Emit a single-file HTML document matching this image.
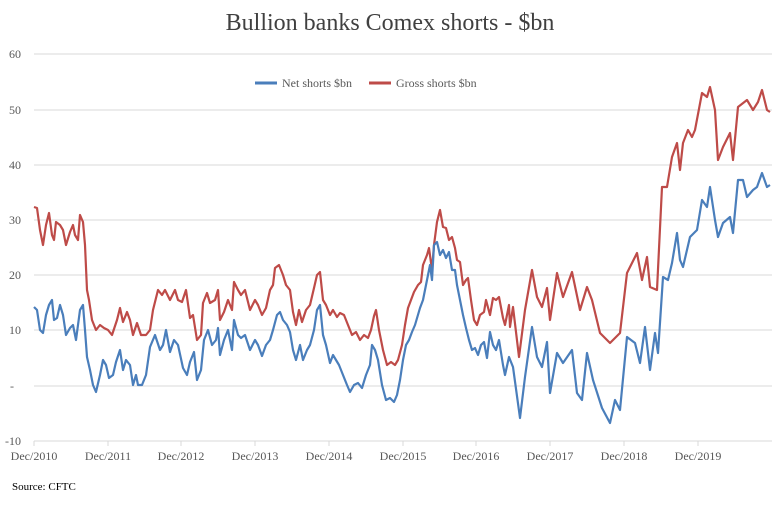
<!DOCTYPE html>
<html><head><meta charset="utf-8"><style>
body{margin:0;background:#fff;}
svg text{font-family:"Liberation Serif",serif;fill:#595959;}
</style></head><body>
<svg width="779" height="500" xmlns="http://www.w3.org/2000/svg">
<text x="390" y="30" text-anchor="middle" style="font-size:24px;fill:#404040">Bullion banks Comex shorts - $bn</text>
<g stroke="#d9d9d9" stroke-width="1">
<line x1="34" y1="54" x2="772" y2="54"/><line x1="34" y1="110" x2="772" y2="110"/>
<line x1="34" y1="165" x2="772" y2="165"/><line x1="34" y1="220" x2="772" y2="220"/>
<line x1="34" y1="275" x2="772" y2="275"/><line x1="34" y1="330" x2="772" y2="330"/>
<line x1="34" y1="386" x2="772" y2="386"/><line x1="34" y1="441" x2="772" y2="441"/>
<line x1="34" y1="441" x2="34" y2="446"/><line x1="108" y1="441" x2="108" y2="446"/>
<line x1="181" y1="441" x2="181" y2="446"/><line x1="255" y1="441" x2="255" y2="446"/>
<line x1="329" y1="441" x2="329" y2="446"/><line x1="403" y1="441" x2="403" y2="446"/>
<line x1="476" y1="441" x2="476" y2="446"/><line x1="550" y1="441" x2="550" y2="446"/>
<line x1="624" y1="441" x2="624" y2="446"/><line x1="698" y1="441" x2="698" y2="446"/>
</g>
<g style="font-size:12px" text-anchor="end">
<text x="21" y="58">60</text><text x="21" y="114">50</text><text x="21" y="169">40</text>
<text x="21" y="224">30</text><text x="21" y="279">20</text><text x="21" y="334">10</text>
<text x="14" y="390">-</text><text x="21" y="445">-10</text>
</g>
<g style="font-size:12px" text-anchor="middle">
<text x="34" y="460">Dec/2010</text><text x="108" y="460">Dec/2011</text><text x="181" y="460">Dec/2012</text>
<text x="255" y="460">Dec/2013</text><text x="329" y="460">Dec/2014</text><text x="403" y="460">Dec/2015</text>
<text x="476" y="460">Dec/2016</text><text x="550" y="460">Dec/2017</text><text x="624" y="460">Dec/2018</text>
<text x="698" y="460">Dec/2019</text>
</g>
<text x="12" y="490" style="font-size:11px;fill:#000">Source: CFTC</text>
<line x1="255" y1="83" x2="277" y2="83" stroke="#4a7ebb" stroke-width="3"/>
<text x="282" y="87" style="font-size:12px">Net shorts $bn</text>
<line x1="369" y1="83" x2="391" y2="83" stroke="#be4b48" stroke-width="3"/>
<text x="396" y="87" style="font-size:12px">Gross shorts $bn</text>
<polyline fill="none" stroke="#be4b48" stroke-width="2.2" stroke-linejoin="round" points="34,207 37,208 40,230 43,245 46,225 49,213 52,235 54,240 56,222 60,225 63,230 66,245 70,232 73,225 75,235 78,240 80,215 83,222 85,245 87,290 89,300 92,320 96,330 100,325 104,328 108,330 112,335 117,320 120,308 123,322 127,312 130,320 133,335 137,323 141,335 146,335 150,330 153,310 158,290 162,295 165,290 170,300 175,290 178,300 182,302 186,290 190,318 193,315 197,340 201,335 203,303 207,293 210,303 215,300 218,290 220,320 224,312 228,300 232,310 234,282 238,290 241,295 245,290 250,310 255,300 258,305 262,315 266,308 270,290 273,285 275,268 279,265 283,275 286,285 290,290 293,312 296,325 299,310 302,322 306,310 310,305 314,288 317,275 320,272 323,300 326,305 330,315 333,310 337,317 340,313 344,315 348,325 352,335 356,332 360,340 364,335 368,338 371,330 374,316 376,310 379,330 383,350 387,365 391,362 395,365 398,360 402,345 405,325 408,308 411,300 414,292 418,285 421,282 423,265 427,255 429,248 432,270 434,245 437,222 440,210 443,227 446,228 449,240 452,237 455,248 457,260 460,262 463,285 466,280 468,278 471,300 474,320 477,325 480,315 484,312 486,300 490,315 493,298 496,300 499,297 503,318 505,325 509,305 510,327 513,307 519,357 525,310 532,270 537,297 542,307 547,288 550,320 557,273 563,297 572,272 580,310 587,287 592,300 600,333 610,343 620,333 627,273 637,253 642,280 647,257 650,287 657,290 662,187 667,187 672,157 677,143 680,170 683,143 688,130 692,137 695,130 702,93 707,97 710,87 715,110 718,160 723,147 730,133 733,160 738,107 747,100 753,110 758,102 762,90 767,110 770,112"/>
<polyline fill="none" stroke="#4a7ebb" stroke-width="2.2" stroke-linejoin="round" points="34,307 37,310 40,330 43,333 46,315 49,305 52,300 54,320 57,318 60,305 63,315 66,335 70,328 73,325 76,340 80,310 83,305 85,330 87,357 90,370 93,385 96,392 100,375 103,360 106,365 109,378 113,375 116,362 120,350 123,370 126,360 130,365 133,385 136,375 138,385 142,385 146,375 150,347 155,335 160,350 163,345 166,330 170,352 174,340 178,345 183,368 187,375 190,362 194,352 197,380 201,370 204,340 208,330 212,345 216,340 218,328 220,355 224,340 228,330 232,350 234,320 238,335 241,338 245,335 250,350 255,340 258,345 262,356 266,345 270,340 273,330 277,315 280,312 283,320 287,325 290,332 293,350 296,360 300,345 303,360 307,350 310,345 314,330 317,310 320,305 323,335 326,345 330,363 333,355 336,360 339,365 343,375 347,385 350,392 354,385 358,383 362,388 366,375 370,365 372,345 375,350 378,360 382,385 386,400 390,398 394,402 397,395 400,380 403,360 406,345 409,340 412,332 415,325 420,308 423,300 426,285 430,265 432,280 434,245 437,242 440,255 443,250 446,258 449,252 452,270 455,270 457,285 460,300 463,315 466,328 469,340 472,350 475,348 478,355 481,345 484,342 487,358 490,332 493,345 496,350 499,340 503,365 505,375 509,357 513,367 520,418 525,377 532,327 537,357 542,367 547,342 550,393 557,353 563,363 572,350 577,393 582,400 587,353 593,380 602,408 610,423 615,400 620,410 627,337 635,343 640,363 645,327 650,370 655,333 658,353 663,277 668,280 672,263 677,233 680,260 683,267 690,237 697,230 702,200 707,207 710,187 715,220 718,237 723,223 730,217 733,233 738,180 743,180 747,197 753,190 757,187 762,173 767,187 770,185"/>
</svg>
</body></html>
